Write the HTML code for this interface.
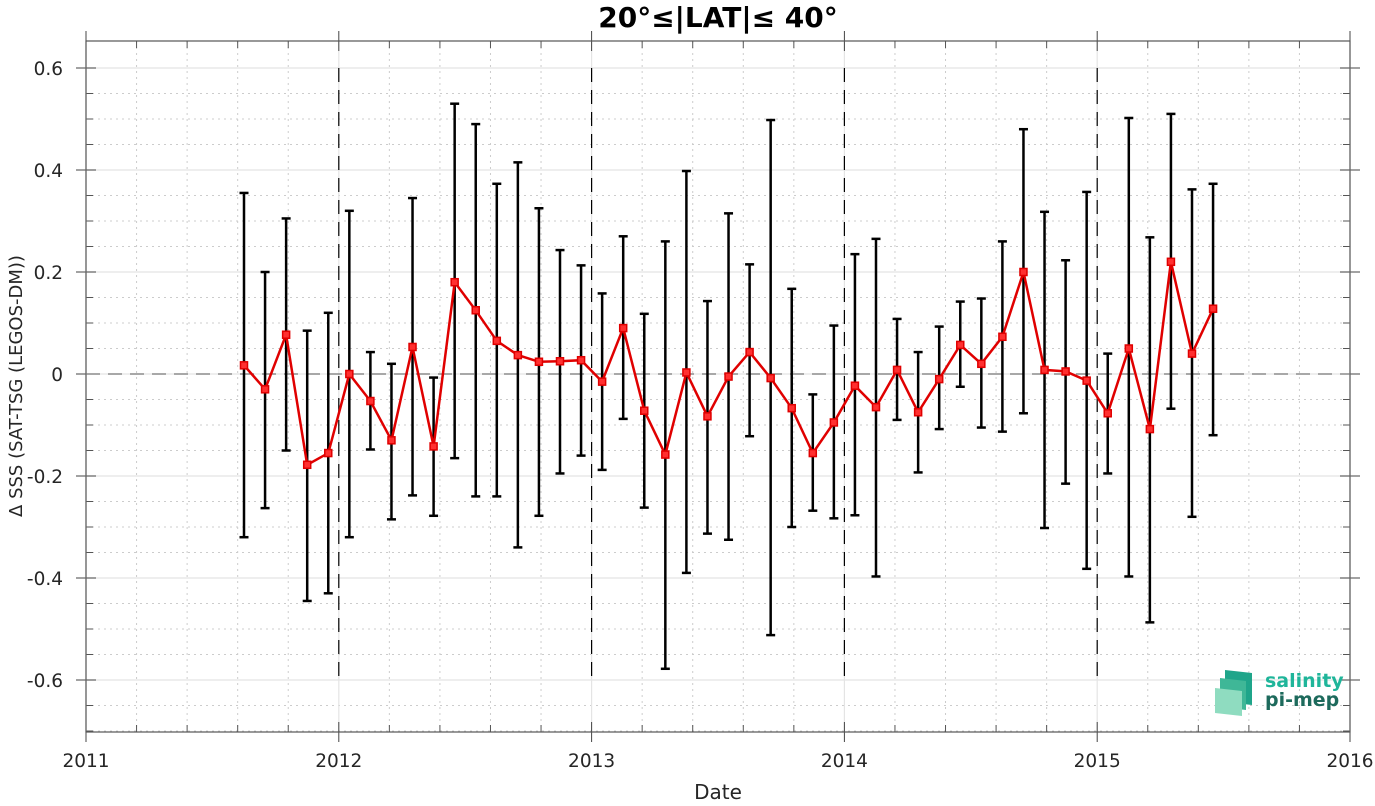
<!DOCTYPE html>
<html><head><meta charset="utf-8"><style>
body{margin:0;background:#fff;font-family:"Liberation Sans","DejaVu Sans",sans-serif}
</style></head><body>
<svg id="c" width="1375" height="801" xmlns="http://www.w3.org/2000/svg" font-family="DejaVu Sans, Liberation Sans, sans-serif"></svg>
<script>
const startYear=2011+7.5/12;
const values=[0.017,-0.03,0.077,-0.178,-0.155,0.0,-0.053,-0.13,0.053,-0.142,0.18,0.125,0.065,0.037,0.024,0.025,0.027,-0.015,0.09,-0.072,-0.158,0.003,-0.083,-0.005,0.043,-0.008,-0.067,-0.155,-0.095,-0.023,-0.065,0.008,-0.075,-0.01,0.057,0.02,0.073,0.2,0.008,0.005,-0.013,-0.077,0.05,-0.108,0.22,0.04,0.128];
const upper=[0.355,0.2,0.305,0.085,0.12,0.32,0.043,0.02,0.345,-0.007,0.53,0.49,0.373,0.415,0.325,0.243,0.213,0.158,0.27,0.118,0.26,0.398,0.143,0.315,0.215,0.498,0.167,-0.04,0.095,0.235,0.265,0.108,0.043,0.093,0.142,0.148,0.26,0.48,0.318,0.223,0.357,0.04,0.502,0.268,0.51,0.362,0.373];
const lower=[-0.32,-0.263,-0.15,-0.445,-0.43,-0.32,-0.148,-0.285,-0.238,-0.278,-0.165,-0.24,-0.24,-0.34,-0.278,-0.195,-0.16,-0.188,-0.088,-0.262,-0.578,-0.39,-0.313,-0.325,-0.122,-0.512,-0.3,-0.268,-0.283,-0.277,-0.397,-0.09,-0.193,-0.108,-0.025,-0.105,-0.113,-0.077,-0.302,-0.215,-0.382,-0.195,-0.397,-0.487,-0.068,-0.28,-0.12];
const yTicks=[0.6,0.4,0.2,0,-0.2,-0.4,-0.6];
const yTickLabels=["0.6","0.4","0.2","0","-0.2","-0.4","-0.6"];
const xTicks=[2011,2012,2013,2014,2015,2016];

const L=86,R=1350,T=41,B=732;
const X=v=>L+(v-2011)/5*(R-L);
const Y=v=>374-v*510;
const svg=document.getElementById('c');
const NS='http://www.w3.org/2000/svg';
function el(t,a,p){const e=document.createElementNS(NS,t);for(const k in a)e.setAttribute(k,a[k]);(p||svg).appendChild(e);return e;}

for(let v=-0.7;v<=0.65;v+=0.05){const r=Math.round(v*100)/100;if(Math.abs(r*5-Math.round(r*5))<1e-6)continue;
 const g=el('line',{x1:L,x2:R,y1:Y(r),y2:Y(r),stroke:'#ccc','stroke-dasharray':'2,4','stroke-width':1});
 }
for(let i=0;i<=25;i++){if(i%5===0)continue;const x=X(2011+i*0.2);
 const g=el('line',{x1:x,x2:x,y1:T,y2:B,stroke:'#ccc','stroke-dasharray':'2,4','stroke-width':1});
 
 el('line',{x1:x,x2:x,y1:B,y2:B-7,stroke:'#555'});el('line',{x1:x,x2:x,y1:T,y2:T+7,stroke:'#555'});}
for(let v=-0.7;v<=0.65;v+=0.05){const r=Math.round(v*100)/100;const y=Y(r);
 el('line',{x1:L,x2:L+7,y1:y,y2:y,stroke:'#555'});el('line',{x1:R,x2:R-7,y1:y,y2:y,stroke:'#555'});}
yTicks.forEach((v,i)=>{const y=Y(v);
 const g=el('line',{x1:L,x2:R,y1:y,y2:y,stroke:'#e4e4e4','stroke-width':1.2});
 
 el('line',{x1:L-10,x2:L+10,y1:y,y2:y,stroke:'#444'});el('line',{x1:R-10,x2:R+10,y1:y,y2:y,stroke:'#444'});
 const t=el('text',{x:L-23,y:y+7,'text-anchor':'end','font-size':18.5,fill:'#262626'});t.textContent=yTickLabels[i];
 });
xTicks.forEach(v=>{const x=X(v);
 el('line',{x1:x,x2:x,y1:T,y2:B,stroke:'#e4e4e4','stroke-width':1.2});
 el('line',{x1:x,x2:x,y1:B-10,y2:B+10,stroke:'#444'});el('line',{x1:x,x2:x,y1:T-10,y2:T+10,stroke:'#444'});
 const t=el('text',{x:x,y:B+35,'text-anchor':'middle','font-size':18.5,fill:'#262626'});t.textContent=String(v);
 
 if(v>2011&&v<2016){const d=el('line',{x1:x,x2:x,y1:Y(0.6),y2:Y(-0.6),stroke:'#000','stroke-dasharray':'14,8','stroke-width':1.2});
  }});
const box=el('rect',{x:L,y:T,width:R-L,height:B-T,fill:'none',stroke:'#555','stroke-width':1.2});

const z=el('line',{x1:L,x2:R,y1:Y(0),y2:Y(0),stroke:'#777','stroke-dasharray':'14,8','stroke-width':1.3});

values.forEach((v,i)=>{const x=X(startYear+i/12);
 const g=el('g',{stroke:'#000','stroke-width':2.5});
 
 el('line',{x1:x,x2:x,y1:Y(upper[i]),y2:Y(lower[i])},g);
 el('line',{x1:x-4.5,x2:x+4.5,y1:Y(upper[i]),y2:Y(upper[i])},g);
 el('line',{x1:x-4.5,x2:x+4.5,y1:Y(lower[i]),y2:Y(lower[i])},g);});
const pts=values.map((v,i)=>X(startYear+i/12).toFixed(1)+','+Y(v).toFixed(1)).join(' ');
const pl=el('polyline',{points:pts,fill:'none',stroke:'#e00000','stroke-width':2.5});

values.forEach((v,i)=>{const x=X(startYear+i/12),y=Y(v);
 const m=el('rect',{x:x-3.5,y:y-3.5,width:7,height:7,fill:'#ff3030',stroke:'#e00000','stroke-width':1.5});
 });
const tt=el('text',{x:718,y:27,'text-anchor':'middle','font-size':28,'font-weight':'bold',fill:'#000'});
tt.textContent='20°≤|LAT|≤ 40°';
const xl=el('text',{x:718,y:799,'text-anchor':'middle','font-size':20,fill:'#262626'});
xl.textContent='Date';
const yl=el('text',{x:0,y:0,'text-anchor':'middle','font-size':18,fill:'#262626',transform:'translate(22,386) rotate(-90)'});
yl.textContent='Δ SSS (SAT-TSG (LEGOS-DM))';
const lg=el('g',{});
el('polygon',{points:'1225,670 1252,673 1252,705 1225,702',fill:'#1fa58a'},lg);
el('polygon',{points:'1220,678 1246,681 1246,710 1220,707',fill:'#3fb797'},lg);
el('polygon',{points:'1215,688 1242,691 1242,716 1215,713',fill:'#8fdcc0'},lg);
const s1=el('text',{x:1265,y:687,'font-size':19,'font-weight':'bold',fill:'#1fb59a'},lg);s1.textContent='salinity';
const s2=el('text',{x:1265,y:706,'font-size':19,'font-weight':'bold',fill:'#1d6a5c'},lg);s2.textContent='pi-mep';
</script>
</body></html>
